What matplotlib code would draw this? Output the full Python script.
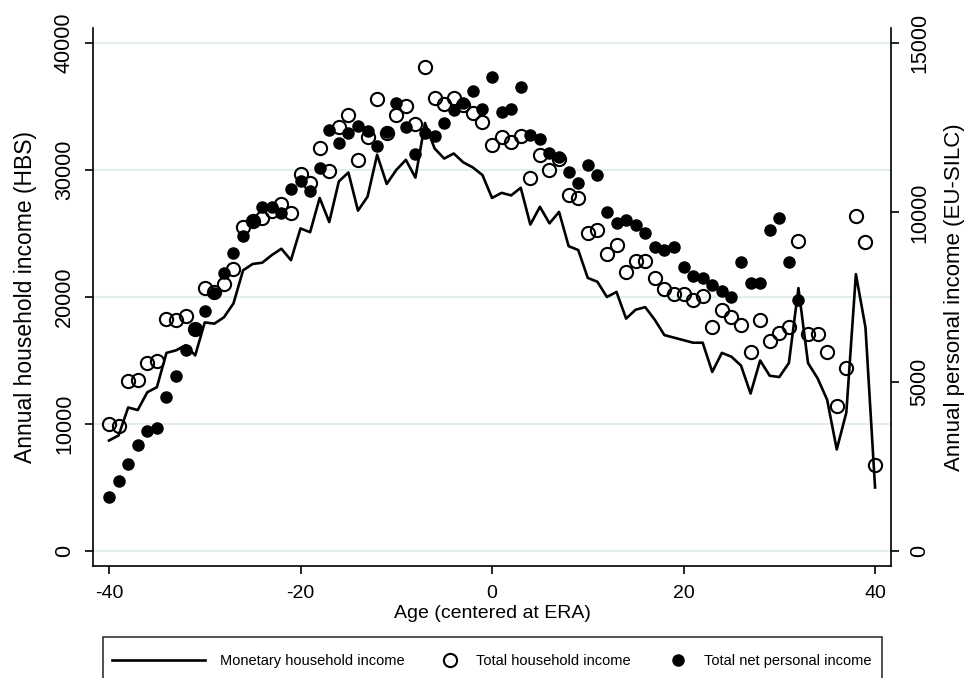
import matplotlib
matplotlib.use("Agg")
import matplotlib.pyplot as plt
from matplotlib.patches import Rectangle

plt.rcParams["font.family"] = ["Liberation Sans", "DejaVu Sans"]
plt.rcParams["axes.unicode_minus"] = False

# ages centered at ERA
ages = [-40, -39, -38, -37, -36, -35, -34, -33, -32, -31, -30, -29, -28, -27, -26, -25, -24,
        -23, -22, -21, -20, -19, -18, -17, -16, -15, -14, -13, -12, -11, -10, -9, -8, -7, -6,
        -5, -4, -3, -2, -1, 0, 1, 2, 3, 4, 5, 6, 7, 8, 9, 10, 11, 12, 13, 14, 15, 16, 17, 18,
        19, 20, 21, 22, 23, 24, 25, 26, 27, 28, 29, 30, 31, 32, 33, 34, 35, 36, 37, 38, 39, 40]

# Monetary household income (HBS, left axis)
monetary_hh = [8700, 9100, 11300, 11100, 12500, 12900, 15600, 15800, 16200, 15400,
               18000, 17900, 18400, 19500, 22100, 22600, 22700, 23300, 23800, 22900,
               25400, 25100, 27800, 25900, 29100, 29800, 26800, 27900, 31200, 28900,
               30000, 30800, 29400, 33700, 31700, 30900, 31300, 30600, 30200, 29600,
               27800, 28200, 28000, 28600, 25700, 27100, 25800, 26700, 24000, 23700,
               21500, 21200, 20000, 20400, 18300, 19000, 19200, 18200, 17000, 16800,
               16600, 16400, 16400, 14100, 15600, 15300, 14600, 12400, 15000, 13800,
               13700, 14800, 20700, 14800, 13600, 11900, 8000, 10900, 21800, 17600,
               5000]

# Total household income (HBS, left axis)
total_hh = [10000, 9850, 13400, 13500, 14800, 15000, 18300, 18200, 18500, 17500,
            20700, 20400, 21000, 22200, 25500, 26000, 26200, 26800, 27300, 26600,
            29700, 29000, 31700, 29900, 33400, 34300, 30800, 32600, 35600, 32900,
            34300, 35000, 33600, 38100, 35700, 35200, 35700, 35100, 34500, 33800,
            32000, 32600, 32200, 32700, 29400, 31200, 30000, 30900, 28000, 27800,
            25000, 25300, 23400, 24100, 22000, 22800, 22800, 21500, 20600, 20200,
            20200, 19800, 20100, 17600, 19000, 18400, 17800, 15700, 18200, 16500,
            17200, 17600, 24400, 17100, 17100, 15700, 11400, 14400, 26400, 24300,
            6800]

# Total net personal income (EU-SILC, right axis), ages -40..32
ages_silc = ages[:73]
net_personal = [1600, 2070, 2570, 3130, 3540, 3630, 4550, 5170, 5940, 6560,
                7090, 7620, 8210, 8800, 9300, 9750, 10160, 10160, 9980, 10690,
                10930, 10630, 11310, 12430, 12050, 12340, 12550, 12400, 11960, 12370,
                13230, 12520, 11720, 12340, 12250, 12640, 13020, 13230, 13580, 13050,
                14000, 12960, 13050, 13700, 12280, 12170, 11750, 11630, 11190, 10870,
                11400, 11100, 10010, 9690, 9770, 9630, 9390, 8980, 8890, 8980,
                8390, 8120, 8060, 7850, 7680, 7500, 8530, 7910, 7910, 9480,
                9830, 8530, 7410]

fig = plt.figure(figsize=(9.7, 6.78), dpi=100)
ax = fig.add_axes([0.0959, 0.1652, 0.8227, 0.7935])
ax2 = ax.twinx()

line, = ax.plot(ages, monetary_hh, color="black", linewidth=1.9, zorder=3)
hollow, = ax.plot(ages, total_hh, linestyle="none", marker="o", markersize=9.5,
                  markerfacecolor="none", markeredgecolor="black", markeredgewidth=1.5, zorder=4)
filled, = ax2.plot(ages_silc, net_personal, linestyle="none", marker="o", markersize=8,
                   markerfacecolor="black", markeredgecolor="black", zorder=4)

ax.set_xlim(-41.67, 41.67)
ax.set_ylim(-1180, 41180)
ax2.set_ylim(-443, 15443)

ax.set_xticks([-40, -20, 0, 20, 40])
ax.set_yticks([0, 10000, 20000, 30000, 40000])
ax2.set_yticks([0, 5000, 10000, 15000])

ax.grid(axis="y", color="#e2edf0", linewidth=1.5)
ax.set_axisbelow(True)

for a in (ax, ax2):
    a.spines["top"].set_visible(False)
    for s in a.spines.values():
        s.set_linewidth(1.2)
    a.tick_params(width=1.2, length=6, labelsize=14, pad=8)
ax.spines["right"].set_visible(False)
ax2.spines["left"].set_visible(False)
ax2.spines["bottom"].set_visible(False)
ax.tick_params(axis="y", labelsize=15.5, pad=7)
ax2.tick_params(axis="y", labelsize=15.5, pad=7)

for lbl in ax.get_yticklabels() + ax2.get_yticklabels():
    lbl.set_rotation(90)
    lbl.set_va("center")

ax.set_xlabel("Age (centered at ERA)", fontsize=14, labelpad=2)
ax.set_ylabel("Annual household income (HBS)", fontsize=16.5, labelpad=12)
ax2.set_ylabel("Annual personal income (EU-SILC)", fontsize=16, labelpad=10)

# legend box running off the bottom of the figure
fig.patches.append(Rectangle((103 / 970, -0.05), (882 - 103) / 970, 0.05 + (1 - 637 / 678),
                             transform=fig.transFigure, fill=False, edgecolor="#222222",
                             linewidth=1.1))

yl = 1 - 661 / 678
kw = dict(loc="center left", frameon=False, fontsize=10.5, borderpad=0,
          borderaxespad=0, numpoints=1)
fig.legend([line], ["Monetary household income"], bbox_to_anchor=(112 / 970, yl),
           handlelength=6.4, handletextpad=1.0, **kw)
fig.legend([hollow], ["Total household income"], bbox_to_anchor=(443 / 970, yl),
           handlelength=1.0, handletextpad=1.28, **kw)
fig.legend([filled], ["Total net personal income"], bbox_to_anchor=(671 / 970, yl),
           handlelength=1.0, handletextpad=1.28, **kw)

fig.savefig("out.png", dpi=100)
